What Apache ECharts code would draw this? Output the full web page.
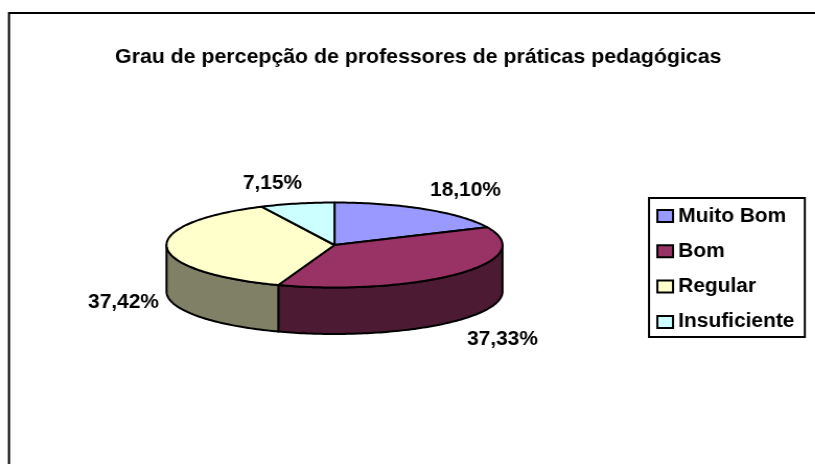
<!DOCTYPE html>
<html><head><meta charset="utf-8">
<style>html,body{margin:0;padding:0;background:#fff;overflow:hidden}
#c{width:780px;height:464px;transform:scaleX(1.045);transform-origin:0 0}</style>
<script src="https://cdn.jsdelivr.net/npm/echarts@6/dist/echarts.min.js"></script>
</head><body><div id="c"></div>
<script>
const titleText = 'Grau de percepção de professores de práticas pedagógicas';
const categories = ['Muito Bom', 'Bom', 'Regular', 'Insuficiente'];
const values = [18.10, 37.33, 37.42, 7.15];
const labels = ['18,10%', '37,33%', '37,42%', '7,15%'];
const topColors = ['#9999FF', '#993366', '#FFFFCC', '#CCFFFF'];
const sideColors = ['#4D4D80', '#4D1A33', '#808066', '#668080'];

// The reference is stretched horizontally; layout is given in page pixels and divided by SX.
const SX = 1.045;
const px = x => x / SX;
const labelCentres = [[465.5, 190], [502.5, 339], [123.5, 302], [272.5, 183]];

const total = values.reduce((a, b) => a + b, 0);
const depth = 1.094;            // extrusion, in y-axis units
const F = '"Liberation Sans", Arial, sans-serif';
let acc = 0;
const spans = values.map(v => { const s = acc; acc += v; return [s / total * 2 * Math.PI, acc / total * 2 * Math.PI]; });
const rim = (t, dy) => [Math.sin(t), Math.cos(t) - (dy || 0)];
function arc(a, b, dy) {
  const n = Math.max(2, Math.ceil((b - a) / 0.02)), out = [];
  for (let i = 0; i <= n; i++) out.push(rim(a + (b - a) * i / n, dy));
  return out;
}
const line = { stroke: '#000', lineWidth: 2, lineJoin: 'round' };

function sideSeries(i) {
  return {
    name: categories[i] + ' lado', type: 'custom', coordinateSystem: 'cartesian2d', clip: false, silent: true, z: 2,
    data: [[values[i]]],
    renderItem(p, api) {
      const a = Math.max(spans[i][0], Math.PI / 2), b = Math.min(spans[i][1], 3 * Math.PI / 2);
      if (b <= a) return { type: 'group', children: [] };
      const pts = arc(a, b, 0).concat(arc(a, b, depth).reverse()).map(q => api.coord(q));
      return { type: 'polygon', shape: { points: pts }, style: Object.assign({ fill: sideColors[i] }, line) };
    }
  };
}
function topSeries(i) {
  return {
    name: categories[i], type: 'custom', coordinateSystem: 'cartesian2d', clip: false, silent: true, z: 3,
    data: [[values[i]]], itemStyle: { color: topColors[i] },
    renderItem(p, api) {
      const pts = [[0, 0]].concat(arc(spans[i][0], spans[i][1], 0)).map(q => api.coord(q));
      return { type: 'group', children: [
        { type: 'polygon', shape: { points: pts }, style: Object.assign({ fill: topColors[i] }, line) },
        { type: 'text', z2: 10, style: { text: labels[i], x: px(labelCentres[i][0]), y: labelCentres[i][1], align: 'center', verticalAlign: 'middle', font: 'bold 20px ' + F, fill: '#000' } }
      ] };
    }
  };
}

const chart = echarts.init(document.getElementById('c'), null, { renderer: 'canvas', width: 780, height: 464 });
chart.setOption({
  animation: false,
  backgroundColor: '#fff',
  graphic: [{ type: 'rect', z: -1, shape: { x: px(9), y: 13, width: 850, height: 470 }, style: { fill: '#fff', stroke: '#000', lineWidth: 2 } }],
  title: { text: titleText, left: px(413), top: 42, textAlign: 'center', textStyle: { fontFamily: F, fontWeight: 'bold', fontSize: 20.4, color: '#000' } },
  legend: {
    data: categories.slice(), orient: 'vertical', left: px(649), top: 198,
    itemWidth: 15, itemHeight: 12, itemGap: 15.3, padding: [8, 10, 5, 7], backgroundColor: '#fff',
    borderColor: '#000', borderWidth: 2, borderRadius: 0, icon: 'rect', selectedMode: false,
    itemStyle: { borderColor: '#000', borderWidth: 2 },
    textStyle: { fontFamily: F, fontWeight: 'bold', fontSize: 20, lineHeight: 20, color: '#000' }
  },
  grid: { left: px(166.5), top: 202.5, width: px(336), height: 127.5 },
  xAxis: { type: 'value', min: -1, max: 1, show: false },
  yAxis: { type: 'value', min: -2, max: 1, show: false },
  series: [0, 1, 2, 3].map(sideSeries).concat([0, 1, 2, 3].map(topSeries))
});
</script></body></html>
